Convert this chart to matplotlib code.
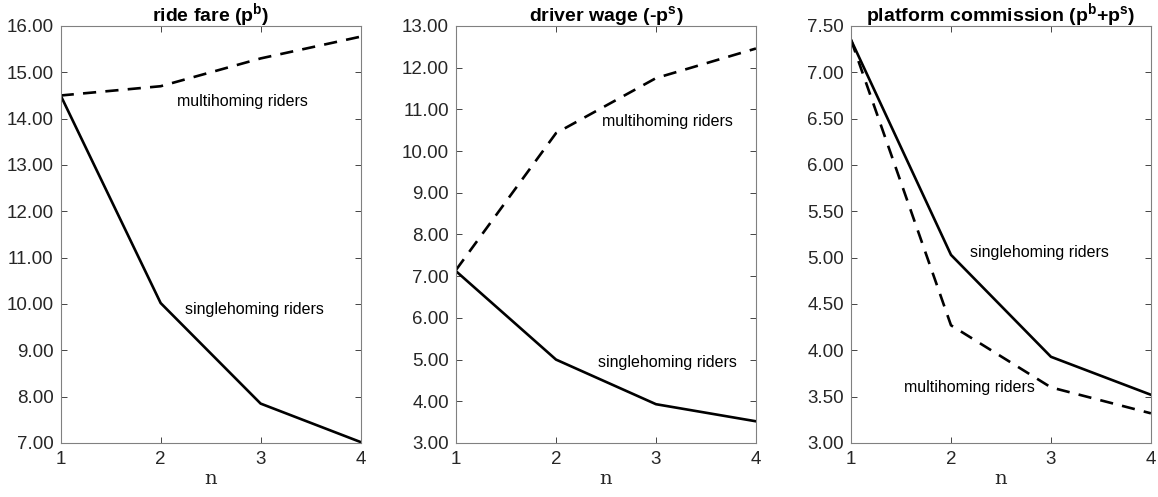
import matplotlib
matplotlib.use("Agg")
import matplotlib.pyplot as plt
from matplotlib.ticker import FormatStrFormatter
import numpy as np

plt.rcParams['font.family'] = ['Liberation Sans', 'DejaVu Sans']

n = [1, 2, 3, 4]

# ride fare
fare_single = [14.50, 10.02, 7.85, 7.02]
fare_multi = [14.50, 14.70, 15.30, 15.77]

# driver wage
wage_single = [7.12, 5.00, 3.93, 3.52]
wage_multi = [7.15, 10.43, 11.75, 12.46]

# platform commission
comm_single = [7.35, 5.03, 3.93, 3.52]
comm_multi = [7.35, 4.27, 3.60, 3.32]

titles = [r"ride fare (p$^{\mathregular{b}}$)",
          r"driver wage (-p$^{\mathregular{s}}$)",
          r"platform commission (p$^{\mathregular{b}}$+p$^{\mathregular{s}}$)"]
ylims = [(7, 16), (3, 13), (3, 7.5)]
ysteps = [1, 1, 0.5]
lefts = [0.0524, 0.3938, 0.7349]

# label positions (data coords)
single_lbl = [(2.94, 9.89), (3.11, 4.94), (2.88, 5.06)]
multi_lbl = [(2.82, 14.38), (3.11, 10.7), (2.18, 3.6)]

singles = [fare_single, wage_single, comm_single]
multis = [fare_multi, wage_multi, comm_multi]

fig = plt.figure(figsize=(11.58, 4.97), dpi=100)
grey = '#262626'

for i in range(3):
    ax = fig.add_axes([lefts[i], 0.1087, 0.259, 0.839])
    ax.plot(n, singles[i], color='k', lw=1.9)
    ax.plot(n, multis[i], color='k', lw=1.9, ls=(0, (5, 3.5)))
    ax.set_xlim(1, 4)
    ax.set_ylim(*ylims[i])
    ax.set_xticks(n)
    ax.set_yticks(np.arange(ylims[i][0], ylims[i][1] + 0.01, ysteps[i]))
    ax.yaxis.set_major_formatter(FormatStrFormatter('%.2f'))
    ax.tick_params(direction='in', top=True, right=True, labelsize=13.5,
                   colors=grey, length=4, width=0.6, labelcolor=grey)
    ax.tick_params(axis='x', pad=6)
    ax.tick_params(axis='y', pad=5)
    for s in ax.spines.values():
        s.set_color('#808080')
        s.set_linewidth(0.8)
    ax.set_title(titles[i], fontsize=14, fontweight='bold', pad=3)
    ax.set_xlabel('n', family='DejaVu Serif', fontsize=14, color=grey, labelpad=1)
    ax.text(*single_lbl[i], 'singlehoming riders', ha='center', va='center', fontsize=11.5)
    ax.text(*multi_lbl[i], 'multihoming riders', ha='center', va='center', fontsize=11.5)

fig.savefig('out.png', dpi=100)
